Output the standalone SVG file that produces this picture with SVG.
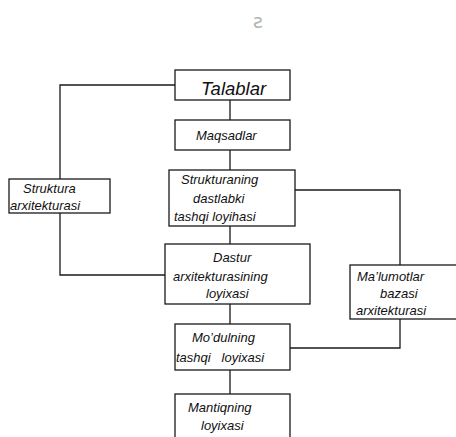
<svg xmlns="http://www.w3.org/2000/svg" width="456" height="437" viewBox="0 0 456 437">
  <style>
    .box { fill: #ffffff; stroke: #1a1a1a; stroke-width: 1.3; }
    .wire { fill: none; stroke: #1a1a1a; stroke-width: 1.3; }
    .lbl { font-family: "Liberation Sans", Arial, sans-serif; font-style: italic; font-size: 13px; fill: #111111; }
    .big { font-size: 18.5px; }
  </style>
  <rect width="456" height="437" fill="#ffffff"/>

  <!-- faint mark above the chart -->
  <text x="253" y="28" font-family="DejaVu Sans, sans-serif" font-size="19" fill="#b4b4b4">ƨ</text>

  <!-- connectors -->
  <g id="connectors" class="wire">
    <path d="M175,85 H60 V179"/>
    <path d="M60,213 V275 H165"/>
    <path d="M230,100 V120"/>
    <path d="M230,150 V170"/>
    <path d="M230,226 V244"/>
    <path d="M295,190 H400 V265"/>
    <path d="M230,304 V324"/>
    <path d="M400,319 V348 H290"/>
    <path d="M230,370 V394"/>
  </g>

  <g id="talablar">
    <rect class="box" x="175" y="70" width="115" height="30"/>
    <text class="lbl big" x="201" y="95">Talablar</text>
  </g>

  <g id="maqsadlar">
    <rect class="box" x="175" y="120" width="115" height="30"/>
    <text class="lbl" x="196" y="140">Maqsadlar</text>
  </g>

  <g id="struktura-arxitekturasi">
    <rect class="box" x="9" y="179" width="101" height="34"/>
    <text class="lbl" x="23" y="193">Struktura</text>
    <text class="lbl" x="10" y="210">arxitekturasi</text>
  </g>

  <g id="strukturaning-loyihasi">
    <rect class="box" x="169" y="170" width="126" height="56"/>
    <text class="lbl" x="181" y="184">Strukturaning</text>
    <text class="lbl" x="193" y="203">dastlabki</text>
    <text class="lbl" x="174" y="221">tashqi loyihasi</text>
  </g>

  <g id="dastur-arxitekturasi">
    <rect class="box" x="165" y="244" width="145" height="60"/>
    <text class="lbl" x="213" y="262">Dastur</text>
    <text class="lbl" x="173" y="281">arxitekturasining</text>
    <text class="lbl" x="206" y="298">loyixasi</text>
  </g>

  <g id="malumotlar-bazasi">
    <rect class="box" x="350" y="265" width="110" height="54"/>
    <text class="lbl" x="357" y="281">Ma’lumotlar</text>
    <text class="lbl" x="380" y="298">bazasi</text>
    <text class="lbl" x="356" y="315">arxitekturasi</text>
  </g>

  <g id="modul-loyihasi">
    <rect class="box" x="175" y="324" width="115" height="46"/>
    <text class="lbl" x="192" y="342">Mo’dulning</text>
    <text class="lbl" x="176" y="362" xml:space="preserve">tashqi   loyixasi</text>
  </g>

  <g id="mantiq-loyihasi">
    <rect class="box" x="175" y="394" width="115" height="60"/>
    <text class="lbl" x="188" y="412">Mantiqning</text>
    <text class="lbl" x="201" y="430">loyixasi</text>
  </g>
</svg>
